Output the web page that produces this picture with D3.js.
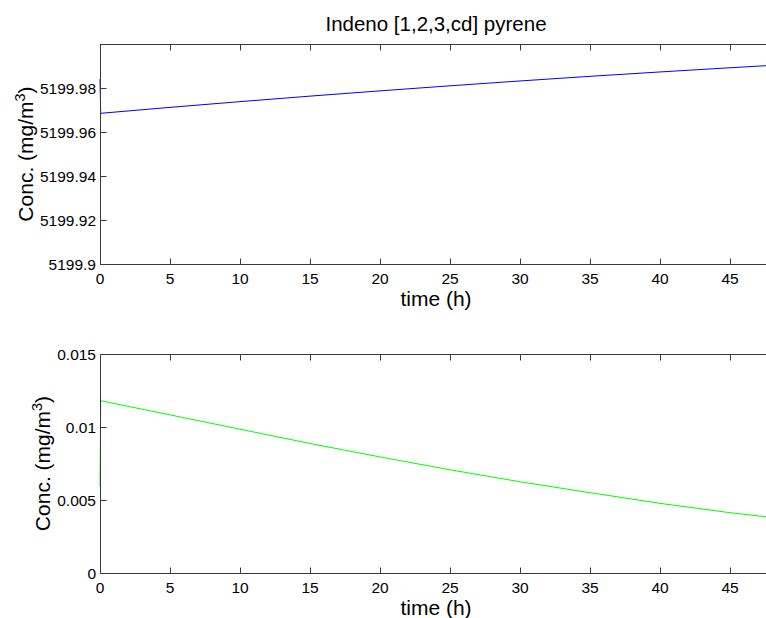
<!DOCTYPE html>
<html><head><meta charset="utf-8">
<script src="https://cdn.jsdelivr.net/npm/d3@7"></script>
<style>html,body{margin:0;padding:0;background:#fff;}svg{display:block;font-family:"Liberation Sans",Arial,sans-serif;}</style>
</head><body><svg id="c" width="766" height="618"></svg>
<script>
const title = "Indeno [1,2,3,cd] pyrene";
const timeH = [0, 0.05, 5, 10, 15, 20, 25, 30, 35, 40, 45, 48];
const gasConc = [5199.9841, 5199.9685, 5199.9712, 5199.9738, 5199.9763, 5199.9787, 5199.9810, 5199.9832, 5199.9853, 5199.9873, 5199.9892, 5199.9903];
const particleConc = [0.0059, 0.01180, 0.01083, 0.00985, 0.00887, 0.00795, 0.00707, 0.00625, 0.00550, 0.00477, 0.00413, 0.00380];
const xTicks = [0, 5, 10, 15, 20, 25, 30, 35, 40, 45];
const topYTicks = [5199.9, 5199.92, 5199.94, 5199.96, 5199.98];
const botYTicks = [0, 0.005, 0.01, 0.015];

const svg = d3.select("#c");
const L = 100, R = 772;
const x = d3.scaleLinear().domain([0, 48]).range([L, R]);

function panel(top, bottom, yDomain, yTicks, fmt, values, color, ylabX) {
  const y = d3.scaleLinear().domain(yDomain).range([bottom, top]);
  const g = svg.append("g");
  const tk = 6;
  const axisColor = "#3a3a3a";
  const line = d3.line().x((d, i) => x(timeH[i])).y(d => y(d));
  g.append("path").datum(values).attr("d", line).attr("fill", "none")
    .attr("stroke", color).attr("stroke-width", 1);
  g.append("rect").attr("x", L + 0.5).attr("y", top + 0.5).attr("width", R - L).attr("height", bottom - top)
    .attr("fill", "none").attr("stroke", axisColor).attr("stroke-width", 1);
  xTicks.forEach(t => {
    const px = Math.round(x(t)) + 0.5;
    g.append("line").attr("x1", px).attr("x2", px).attr("y1", bottom + 0.5).attr("y2", bottom + 0.5 - tk).attr("stroke", axisColor);
    g.append("line").attr("x1", px).attr("x2", px).attr("y1", top + 0.5).attr("y2", top + 0.5 + tk).attr("stroke", axisColor);
    g.append("text").attr("x", x(t)).attr("y", bottom + 19.5).attr("text-anchor", "middle")
      .attr("font-size", 15.5).attr("fill", "#000").text(t);
  });
  yTicks.forEach(v => {
    const py = Math.round(y(v)) + 0.5;
    g.append("line").attr("x1", L + 0.5).attr("x2", L + 0.5 + tk).attr("y1", py).attr("y2", py).attr("stroke", axisColor);
    g.append("line").attr("x1", R + 0.5).attr("x2", R + 0.5 - tk).attr("y1", py).attr("y2", py).attr("stroke", axisColor);
    g.append("text").attr("x", L - 4).attr("y", y(v) + 5.5).attr("text-anchor", "end")
      .attr("font-size", 15.5).attr("fill", "#000").text(fmt(v));
  });
  g.append("text").attr("x", (L + R) / 2).attr("y", bottom + 42).attr("text-anchor", "middle")
    .attr("font-size", 21).attr("fill", "#000").text("time (h)");
  const yl = g.append("text").attr("transform", `translate(${ylabX},${(top + bottom) / 2}) rotate(-90)`)
    .attr("text-anchor", "middle").attr("font-size", 21).attr("fill", "#000");
  yl.append("tspan").text("Conc. (mg/m");
  yl.append("tspan").attr("dy", -8).attr("font-size", 14.5).text("3");
  yl.append("tspan").attr("dy", 8).text(")");
  return y;
}

panel(44, 264, [5199.9, 5200], topYTicks, v => String(+v.toFixed(2)), gasConc, "#0000ff", 33);
panel(354, 573, [0, 0.015], botYTicks, v => String(+v.toFixed(3)), particleConc, "#00ff00", 50);

svg.append("text").attr("x", (L + R) / 2).attr("y", 31).attr("text-anchor", "middle")
  .attr("font-size", 20.5).attr("fill", "#000").text(title);
</script></body></html>
